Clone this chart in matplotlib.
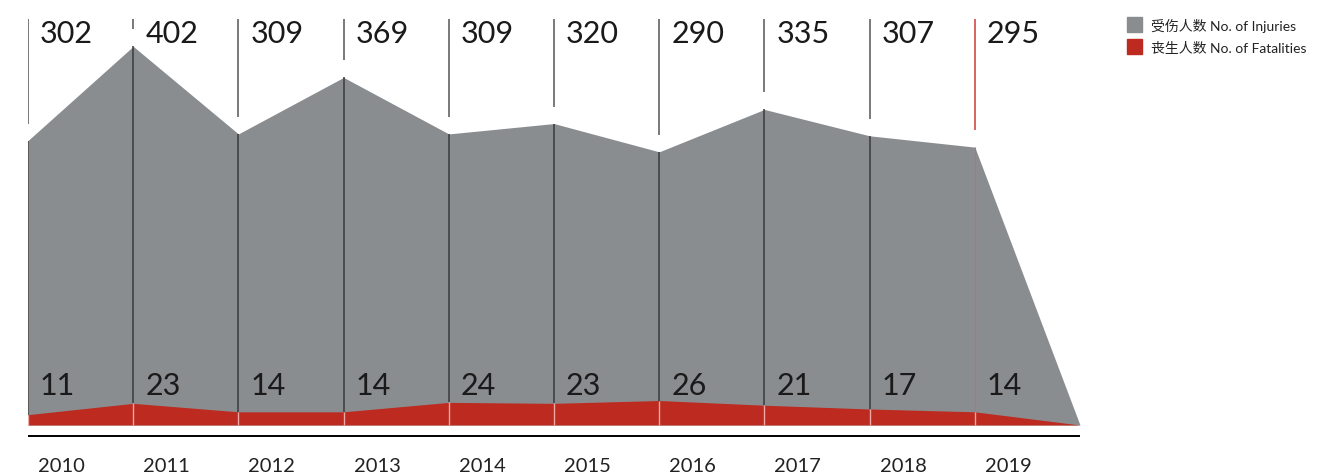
import matplotlib
matplotlib.use("Agg")
import matplotlib.pyplot as plt
from matplotlib.patches import Rectangle

years = ["2010", "2011", "2012", "2013", "2014", "2015", "2016", "2017", "2018", "2019"]
injuries = [302, 402, 309, 369, 309, 320, 290, 335, 307, 295]
fatalities = [11, 23, 14, 14, 24, 23, 26, 21, 17, 14]
legend_labels = ["受伤人数 No. of Injuries", "丧生人数 No. of Fatalities"]

GRAY = "#8a8d90"
RED = "#bd2a1f"

W, H = 1332, 477
fig = plt.figure(figsize=(W / 100, H / 100), dpi=100)
fig.patch.set_facecolor("white")

x0_px, x1_px = 28, 1080
base_px = 426
scale = 0.942  # px per unit
ax = fig.add_axes([x0_px / W, 0, (x1_px - x0_px) / W, 1])
n = len(years)
ax.set_xlim(0, n)
ax.set_ylim(-(H - base_px) / scale, base_px / scale)
ax.axis("off")

xs = list(range(n + 1))
inj = injuries + [0]
fat = fatalities + [0]
ax.fill_between(xs, 0, inj, color=GRAY, lw=0, zorder=1)
ax.fill_between(xs, 0, fat, color=RED, lw=0, zorder=2)

def px2y(px):
    return (base_px - px) / scale

num_font = "Lato"
step = (x1_px - x0_px) / n
for i in range(n):
    last = i == n - 1
    top_col = "#cc3b35" if last else "#555555"
    in_col = "#c96a66" if last else "#3a3a3a"
    ax.plot([i, i], [px2y(20), injuries[i] + 17 / scale], color=top_col, lw=1.1, zorder=3,
            solid_capstyle="butt")
    ax.plot([i, i], [fatalities[i], injuries[i]], color=in_col, lw=1.1 if not last else 0.8,
            zorder=3, solid_capstyle="butt")
    ax.plot([i, i], [0, fatalities[i]], color="#f0a8a4", lw=1.0, zorder=3,
            solid_capstyle="butt")
    ax.text(i + 12 / step, px2y(43), str(injuries[i]), fontsize=22, family=num_font,
            color="#1a1a1a", ha="left", va="baseline", zorder=4)
    ax.text(i + 12 / step, px2y(395), str(fatalities[i]), fontsize=22, family=num_font,
            color="#1a1a1a", ha="left", va="baseline", zorder=4)
    ax.text(i + 10 / step, px2y(472), years[i], fontsize=14.5, family=num_font,
            color="#222222", ha="left", va="baseline", zorder=4)

ax.plot([0, n], [px2y(437), px2y(437)], color="black", lw=1.4, zorder=3,
        solid_capstyle="butt")

for k, (lab, col) in enumerate(zip(legend_labels, [GRAY, RED])):
    y_top = 18 + k * 22
    fig.patches.append(Rectangle((1127 / W, 1 - (y_top + 15) / H), 15 / W, 15 / H,
                                 transform=fig.transFigure, color=col, figure=fig))
    fig.text(1151 / W, 1 - (y_top + 8) / H, lab, fontsize=10,
             family=["Lato", "Noto Sans CJK SC", "DejaVu Sans"],
             color="#222222", ha="left", va="center")

fig.savefig("out.png", dpi=100)
